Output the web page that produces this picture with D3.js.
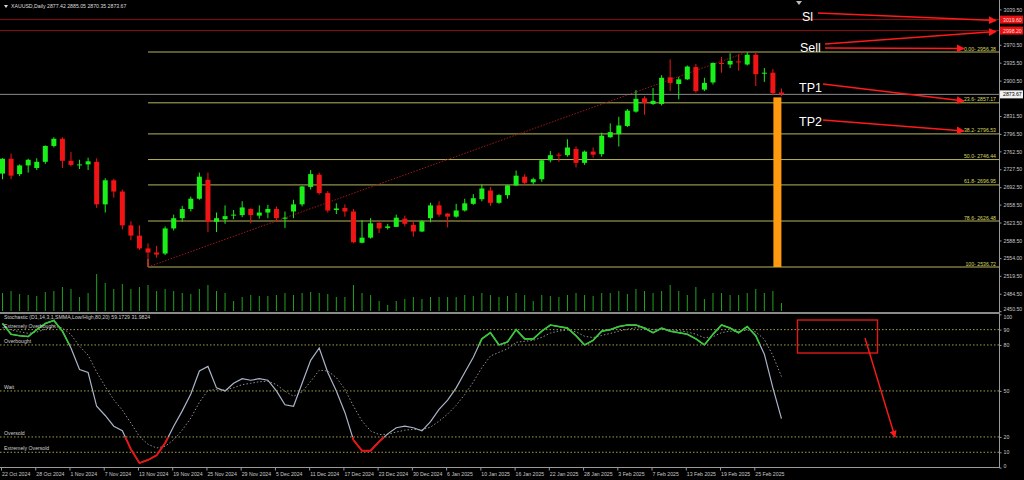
<!DOCTYPE html>
<html><head><meta charset="utf-8">
<script src="https://cdn.jsdelivr.net/npm/d3@7"></script>
<style>html,body{margin:0;padding:0;background:#000;overflow:hidden}</style>
</head><body><svg id="c" width="1024" height="480"></svg>
<script>
// ---------- DATA ----------
const openP  = [2719,2748,2718,2735,2730,2742,2773,2787,2744,2736,2737,2742,2659,2706,2684,2618,2598,2573,2565,2563,2612,2632,2650,2670,2707,2625,2630,2638,2638,2650,2637,2643,2650,2632,2645,2659,2693,2717,2681,2648,2652,2645,2584,2594,2623,2613,2615,2631,2619,2606,2632,2657,2641,2635,2647,2660,2669,2686,2662,2677,2696,2713,2702,2708,2745,2756,2755,2767,2740,2762,2757,2790,2796,2812,2840,2866,2855,2855,2907,2894,2903,2927,2883,2897,2935,2932,2938,2932,2951,2914,2916,2877.42];
const highP  = [2749,2758,2737,2748,2749,2774,2790,2790,2761,2746,2750,2749,2710,2709,2688,2626,2618,2583,2578,2616,2639,2656,2674,2721,2721,2643,2657,2648,2665,2651,2657,2658,2655,2645,2668,2695,2726,2721,2685,2661,2659,2650,2628,2632,2624,2621,2639,2637,2626,2628,2662,2665,2642,2660,2670,2679,2698,2693,2679,2697,2725,2718,2711,2746,2763,2760,2786,2772,2764,2770,2799,2817,2830,2845,2882,2870,2886,2911,2942,2908,2930,2933,2906,2936,2947,2954,2952,2956.38,2956,2925,2923,2885.05];
const lowP   = [2708,2708,2714,2721,2726,2738,2770,2730,2733,2728,2726,2652,2643,2672,2610,2589,2570,2536.72,2555,2560,2608,2625,2645,2668,2605,2605,2621,2630,2634,2622,2631,2632,2625,2613,2632,2655,2688,2678,2643,2640,2635,2583,2583,2592,2603,2610,2615,2616,2596,2605,2624,2635,2614,2633,2645,2658,2665,2656,2660,2670,2695,2697,2698,2703,2741,2742,2752,2731,2736,2750,2752,2789,2772,2810,2838,2834,2853,2852,2880,2864,2902,2877,2880,2893,2916,2925,2920,2930,2890,2898,2872,2870.35];
const closeP = [2748,2715,2735,2746,2742,2773,2787,2744,2736,2737,2743,2659,2706,2684,2618,2598,2573,2565,2561,2612,2632,2650,2670,2713,2625,2632,2636,2639,2653,2638,2643,2650,2632,2633,2659,2694,2718,2681,2647,2651,2645,2585,2594,2622,2612,2616,2633,2621,2606,2626,2657,2639,2635,2647,2661,2671,2690,2662,2677,2696,2715,2701,2708,2745,2755,2754,2770,2740,2762,2756,2793,2800,2813,2842,2865,2857,2861,2906,2896,2903,2928,2880,2896,2935,2933,2939,2936,2951,2913,2916,2876,2873.67];
const volume = [18,20,17,16,15,19,20,24,22,14,18,37,28,22,27,22,24,26,20,22,20,18,17,22,26,20,18,10,14,16,15,15,16,18,16,18,19,18,17,14,14,26,18,16,10,6,10,12,14,12,14,14,14,14,16,15,18,16,14,15,18,16,10,16,15,14,16,18,16,15,18,18,20,17,22,20,18,20,26,20,16,24,12,18,18,16,16,18,22,18,20,8];
const stochMain = [94,87,86,85.5,90,94,96,89,78,64,62,40,34,27,24,12,3,5,8,16,27,37,48,63,66,52,50,55,58,57,58,57,50,41,40,55,70,78,62,50,36,18,11,11,17,22,26,27,26,24,30,38,44,52,62,72,84,88,80,82,90,84,84,89,93,92,91,86,80,83,89,90,92,93,93,91,88,91,89,88,87,84,80,87,93,91,88,92,86,74,52,32];
const stochSignal = [91.3,89.9,88.6,87.6,88.4,90.3,92.2,91.1,86.8,79.2,73.4,62.3,52.9,44.2,37.5,29,20.3,15.2,12.8,13.9,18.2,24.5,32.3,42.6,50.4,50.9,50.6,52.1,54.1,55,56,56.3,54.2,49.8,46.5,49.4,56.2,63.5,63,58.7,51.1,40.1,30.4,23.9,21.6,21.7,23.2,24.4,25,24.7,26.4,30.3,34.9,40.6,47.7,55.8,65.2,72.8,75.2,77.5,81.7,82.4,83,85,87.7,89.1,89.7,88.5,85.7,84.8,86.2,87.5,89,90.3,91.2,91.1,90.1,90.4,89.9,89.3,88.5,87,84.7,85.4,88,89,88.7,89.8,88.5,83.7,73.1,59.4];
const dateTickIndex = [0,4,8,12,16,20,24,28,32,36,40,44,48,52,56,60,64,68,72,76,80,84,88];
const dateTickLabels = ["22 Oct 2024","28 Oct 2024","1 Nov 2024","7 Nov 2024","13 Nov 2024","19 Nov 2024","25 Nov 2024","29 Nov 2024","5 Dec 2024","11 Dec 2024","17 Dec 2024","23 Dec 2024","30 Dec 2024","6 Jan 2025","10 Jan 2025","16 Jan 2025","22 Jan 2025","28 Jan 2025","3 Feb 2025","7 Feb 2025","13 Feb 2025","19 Feb 2025","25 Feb 2025"];
const priceTicks = [3039.50,2970.50,2935.50,2900.50,2831.50,2796.50,2762.50,2727.50,2692.50,2658.50,2623.50,2588.50,2554.00,2519.50,2484.50,2450.50];
const fibRatios = ["0.00","23.6","38.2","50.0","61.8","78.6","100"];
const fibPrices = [2956.38,2857.17,2796.53,2746.44,2696.95,2626.48,2536.72];
const stochLevels = [90,80,50,20,10];
const stochLevelNames = ["Extremely Overbought","Overbought","Wait","Oversold","Extremely Oversold"];
const stochAxisTicks = [100,90,80,50,20,10,0];
const slPrice = 3019.6, sellPrice = 2998.2, lastPrice = 2873.67;
const slLabel = "3019.60", sellLabel = "2998.20";
const lowIndex = 17, highIndex = 87;
const tpIndex = 90;
const headerText = "XAUUSD,Daily  2877.42 2885.05 2870.35 2873.67";
const stochHeader = "Stochastic (D1,14,3,1,SMMA,Low/High,80,20) 59.1729 31.9824";

// ---------- LAYOUT ----------
const svg = d3.select("#c");
const W = 1024, H = 480;
const axisX = 999;
const mainTop = 0, mainBottom = 312, stTop = 314, stBottom = 467;
const x = d3.scaleLinear().domain([0, 91]).range([2.5, 2.5 + 8.56 * 91]);
const y = d3.scaleLinear().domain([2536.72, 2956.38]).range([267, 52]);
const ys = d3.scaleLinear().domain([0, 100]).range([467.6, 314.3]);
const yv = d3.scaleLinear().domain([0, 40]).range([311, 271]);
const GREEN = "#19f019", RED = "#f01414", FIB = "#b5b55a", AXT = "#c8c8c8", FS = "5.2px";
const font = "'Liberation Sans', Arial, sans-serif";

svg.append("rect").attr("width", W).attr("height", H).attr("fill", "#000");
const defs = svg.append("defs");
defs.append("clipPath").attr("id","mainClip").append("rect").attr("x",0).attr("y",mainTop).attr("width",axisX).attr("height",mainBottom-mainTop);
defs.append("clipPath").attr("id","stClip").append("rect").attr("x",0).attr("y",stTop).attr("width",axisX).attr("height",stBottom-stTop);
defs.append("clipPath").attr("id","hiClip").append("rect").attr("x",0).attr("y",stTop).attr("width",axisX).attr("height",ys(80)-stTop);
defs.append("clipPath").attr("id","loClip").append("rect").attr("x",0).attr("y",ys(20)).attr("width",axisX).attr("height",stBottom-ys(20));
defs.append("marker").attr("id","arr").attr("viewBox","0 0 10 10").attr("refX",9).attr("refY",5)
  .attr("markerWidth",5).attr("markerHeight",5).attr("orient","auto-start-reverse")
  .append("path").attr("d","M0,0 L10,5 L0,10 z").attr("fill","#ff1a1a");

const main = svg.append("g").attr("clip-path","url(#mainClip)");

// red horizontal lines (SL / Sell)
[slPrice, sellPrice].forEach(p => main.append("line").attr("x1",0).attr("x2",axisX).attr("y1",y(p)).attr("y2",y(p)).attr("stroke","#8c1010").attr("stroke-width",1));

// fib lines
fibPrices.forEach((p,i) => {
  main.append("line").attr("x1",x(lowIndex)).attr("x2",axisX).attr("y1",y(p)).attr("y2",y(p)).attr("stroke",FIB).attr("stroke-width",1);
  main.append("text").attr("x",996).attr("y",y(p)-1.5).attr("text-anchor","end").attr("fill","#d8d860")
    .attr("font-family",font).attr("font-size",FS).text(fibRatios[i] + "- " + d3.format(".2f")(p));
});
// fib trend line
main.append("line").attr("x1",x(lowIndex)).attr("y1",y(lowP[lowIndex])).attr("x2",x(highIndex)).attr("y2",y(highP[highIndex]))
  .attr("stroke","#a01818").attr("stroke-width",1).attr("stroke-dasharray","1.5,1.5");
main.append("line").attr("x1",x(lowIndex)).attr("x2",x(lowIndex)).attr("y1",y(lowP[lowIndex])).attr("y2",y(lowP[lowIndex])-8).attr("stroke",FIB);

// current price line
main.append("line").attr("x1",0).attr("x2",axisX).attr("y1",y(lastPrice)).attr("y2",y(lastPrice)).attr("stroke","#8a8a8a").attr("stroke-width",1);

// volume
main.selectAll(".vol").data(volume).join("line").attr("x1",(d,i)=>x(i)).attr("x2",(d,i)=>x(i))
  .attr("y1",yv(0)).attr("y2",d=>yv(d)).attr("stroke","#22a022").attr("stroke-width",1);

// candles
const idx = d3.range(openP.length);
main.selectAll(".wick").data(idx).join("line").attr("x1",i=>x(i)).attr("x2",i=>x(i))
  .attr("y1",i=>y(highP[i])).attr("y2",i=>y(lowP[i]))
  .attr("stroke",i=>closeP[i]>=openP[i]?GREEN:RED).attr("stroke-width",1);
main.selectAll(".body").data(idx).join("rect").attr("x",i=>x(i)-2.5).attr("width",5)
  .attr("y",i=>y(Math.max(openP[i],closeP[i])))
  .attr("height",i=>Math.max(1,Math.abs(y(openP[i])-y(closeP[i]))))
  .attr("fill",i=>closeP[i]>=openP[i]?GREEN:RED);

// orange TP bar
main.append("rect").attr("x",x(tpIndex)+0.5).attr("width",8).attr("y",y(lastPrice)+3).attr("height",y(lowP[lowIndex])-y(lastPrice)-3).attr("fill","#ff9a10");

// header
svg.append("path").attr("d","M4,5 L8,5 L6,8 z").attr("fill","#ddd");
svg.append("text").attr("x",11).attr("y",8).attr("fill","#ddd").attr("font-family",font).attr("font-size",FS).text(headerText);
svg.append("path").attr("d","M796,1 L802,1 L799,5 z").attr("fill","#bbb");

// annotation labels
const ann = [["Sl",802,21],["Sell",800,52],["TP1",799,92],["TP2",799,126]];
ann.forEach(a => svg.append("text").attr("x",a[1]).attr("y",a[2]).attr("fill","#fff").attr("font-family",font).attr("font-size","12.5px").text(a[0]));
const arrows = [[818,13,996,20.5],[825,44,996,31.5],[825,48,964,48.5],[823,84,964,101],[823,120,964,131]];
arrows.forEach(a => svg.append("line").attr("x1",a[0]).attr("y1",a[1]).attr("x2",a[2]).attr("y2",a[3])
  .attr("stroke","#ff1a1a").attr("stroke-width",1.6).attr("marker-end","url(#arr)"));

// ---------- price axis ----------
svg.append("line").attr("x1",axisX+0.5).attr("x2",axisX+0.5).attr("y1",0).attr("y2",stBottom).attr("stroke","#9a9a9a");
const pa = svg.append("g").attr("transform",`translate(${axisX+0.5},0)`)
  .call(d3.axisRight(y).tickValues(priceTicks).tickSize(2).tickFormat(d3.format(".2f")));
pa.select(".domain").remove();
pa.selectAll("line").attr("stroke","#9a9a9a");
pa.selectAll("text").attr("fill",AXT).attr("font-family",font).attr("font-size",FS).attr("x",4)
  .attr("dy",d => d === 2450.5 ? "-0.1em" : "0.32em");
// boxes on axis
function axisBox(p, txt, bg, fg){
  const g = svg.append("g");
  g.append("rect").attr("x",axisX+1).attr("y",y(p)-4).attr("width",23).attr("height",8).attr("fill",bg);
  g.append("text").attr("x",axisX+4).attr("y",y(p)+2).attr("fill",fg).attr("font-family",font).attr("font-size",FS).text(txt);
}
axisBox(slPrice, slLabel, "#e81010", "#ffdada");
axisBox(sellPrice, sellLabel, "#e81010", "#ffdada");
axisBox(lastPrice, d3.format(".2f")(lastPrice), "#f0f0f0", "#000");

// panel separator
svg.append("rect").attr("x",0).attr("y",mainBottom).attr("width",axisX+1).attr("height",2).attr("fill","#8a8a8a");

// ---------- stochastic ----------
const st = svg.append("g").attr("clip-path","url(#stClip)");
stochLevels.forEach((v,i) => {
  st.append("line").attr("x1",0).attr("x2",axisX).attr("y1",ys(v)).attr("y2",ys(v)).attr("stroke","#a0a048").attr("stroke-width",1).attr("stroke-dasharray","1.5,2");
  svg.append("text").attr("x",4).attr("y",ys(v)-2).attr("fill","#cfcfcf").attr("font-family",font).attr("font-size",FS).text(stochLevelNames[i]);
});
svg.append("text").attr("x",4).attr("y",319).attr("fill","#cfcfcf").attr("font-family",font).attr("font-size",FS).text(stochHeader);
const sl = d3.line().x((d,i)=>x(i)).y(d=>ys(d));
st.append("path").attr("d",sl(stochSignal)).attr("fill","none").attr("stroke","#909090").attr("stroke-width",1).attr("stroke-dasharray","1.5,2");
st.append("path").attr("d",sl(stochMain)).attr("fill","none").attr("stroke","#aab4c8").attr("stroke-width",1.2);
st.append("path").attr("d",sl(stochMain)).attr("fill","none").attr("stroke","#33cc33").attr("stroke-width",1.6).attr("clip-path","url(#hiClip)");
st.append("path").attr("d",sl(stochMain)).attr("fill","none").attr("stroke","#f01010").attr("stroke-width",1.8).attr("clip-path","url(#loClip)");
// annotation box + arrow
svg.append("rect").attr("x",797.5).attr("y",320).attr("width",80).attr("height",33).attr("fill","none").attr("stroke","#e01818").attr("stroke-width",1.4);
svg.append("line").attr("x1",865).attr("y1",338).attr("x2",895).attr("y2",437).attr("stroke","#ff1a1a").attr("stroke-width",1.4).attr("marker-end","url(#arr)");

const sa = svg.append("g").attr("transform",`translate(${axisX+0.5},0)`)
  .call(d3.axisRight(ys).tickValues(stochAxisTicks).tickSize(2).tickFormat(d3.format("d")));
sa.select(".domain").remove();
sa.selectAll("line").attr("stroke","#9a9a9a");
sa.selectAll("text").attr("fill",AXT).attr("font-family",font).attr("font-size",FS).attr("x",4)
  .attr("dy",d => d === 100 ? "0.9em" : (d === 0 ? "-0.1em" : "0.32em"));

// bottom line
svg.append("line").attr("x1",0).attr("x2",axisX+1).attr("y1",stBottom+0.5).attr("y2",stBottom+0.5).attr("stroke","#9a9a9a");

// ---------- date axis ----------
const da = svg.append("g").attr("transform",`translate(0,${stBottom+0.5})`)
  .call(d3.axisBottom(x).tickValues(dateTickIndex).tickSize(3).tickFormat((d,i)=>dateTickLabels[i]));
da.select(".domain").remove();
da.selectAll("line").attr("stroke","#9a9a9a").attr("transform","translate(-1.5,0)");
da.selectAll("text").attr("fill",AXT).attr("font-family",font).attr("font-size",FS).attr("text-anchor","start").attr("dx","-1px").attr("y",5);
</script></body></html>
